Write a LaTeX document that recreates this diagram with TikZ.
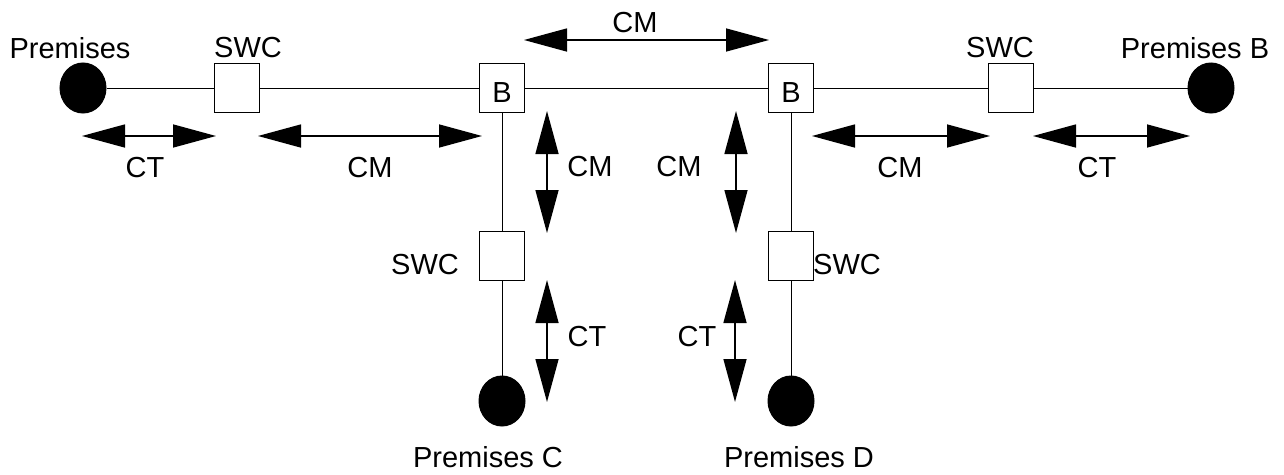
\documentclass[tikz,border=0pt]{standalone}
\usepackage{fontspec}
\setmainfont{Liberation Sans}
\usetikzlibrary{arrows.meta,shapes.geometric}

\begin{document}
\begin{tikzpicture}[%
      x=1pt, y=-1pt,
      every node/.style={font=\fontsize{29}{34}\selectfont},
      box/.style={draw, line width=1pt, minimum width=45pt, minimum height=49pt, inner sep=0pt,
                  text height=29pt, text depth=0pt},
      house/.style={ellipse, draw, fill=black, line width=1pt, minimum width=46pt, minimum height=50pt, inner sep=0pt},
      link/.style={line width=1pt},
      span/.style={line width=1.5pt, {Triangle[length=43pt,width=23pt]}-{Triangle[length=43pt,width=23pt]}},
      ]
      \useasboundingbox (0,0) rectangle (1284,474);

      \node [house] (premA) at (83,88) {};
      \node [box] (swcA) at (237,88) {};
      \node [box] (bL) at (502,88) {B};
      \node [box] (bR) at (791,88) {B};
      \node [box] (swcB) at (1011,88) {};
      \node [house] (premB) at (1211,88) {};
      \node [box] (swcC) at (502,256) {};
      \node [house] (premC) at (502,401) {};
      \node [box] (swcD) at (791,256) {};
      \node [house] (premD) at (791,401) {};

      \draw [link] (premA) -- (swcA) -- (bL) -- (bR) -- (swcB) -- (premB);
      \draw [link] (bL) -- (swcC) -- (premC);
      \draw [link] (bR) -- (swcD) -- (premD);

      \node (lPremA) at (70,48) {Premises};
      \node (lSwcA) at (248,48) {SWC};
      \node (lSwcB) at (1000,48) {SWC};
      \node (lPremB) at (1195,48) {Premises B};
      \node (lSwcC) at (425,265) {SWC};
      \node (lSwcD) at (847,265) {SWC};
      \node (lPremC) at (488,457) {Premises C};
      \node (lPremD) at (799,457) {Premises D};

      % spans
      \coordinate (t1) at (524,40);   \coordinate (t2) at (769,40);
      \coordinate (a1) at (82,136);   \coordinate (a2) at (216,136);
      \coordinate (c1) at (258,136);  \coordinate (c2) at (482,136);
      \coordinate (d1) at (812,136);  \coordinate (d2) at (990,136);
      \coordinate (e1) at (1033,136); \coordinate (e2) at (1190,136);
      \coordinate (f1) at (547,111);  \coordinate (f2) at (547,233);
      \coordinate (g1) at (736,111);  \coordinate (g2) at (736,233);
      \coordinate (h1) at (547,280);  \coordinate (h2) at (547,402);
      \coordinate (k1) at (735,280);  \coordinate (k2) at (735,402);

      \draw [span] (t1) -- (t2);
      \draw [span] (a1) -- (a2);
      \draw [span] (c1) -- (c2);
      \draw [span] (d1) -- (d2);
      \draw [span] (e1) -- (e2);
      \draw [span] (f1) -- (f2);
      \draw [span] (g1) -- (g2);
      \draw [span] (h1) -- (h2);
      \draw [span] (k1) -- (k2);

      \node (lTop) at (635,23) {CM};
      \node (lA) at (145,168) {CT};
      \node (lC) at (370,168) {CM};
      \node (lD) at (900,168) {CM};
      \node (lE) at (1097,168) {CT};
      \node (lF) at (590,167) {CM};
      \node (lG) at (679,167) {CM};
      \node (lH) at (587,337) {CT};
      \node (lK) at (697,337) {CT};
      \end{tikzpicture}
\end{document}
